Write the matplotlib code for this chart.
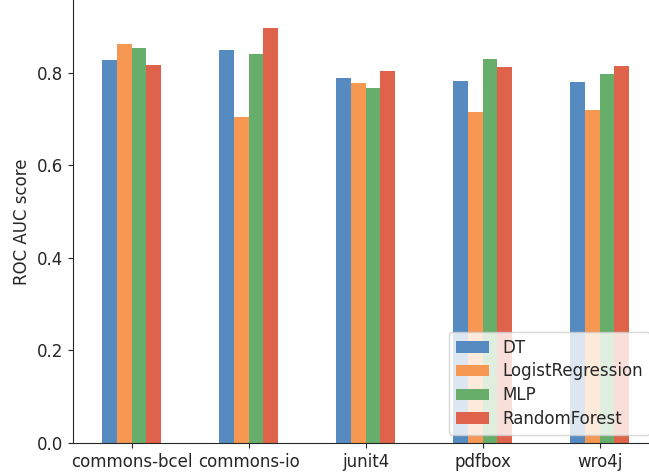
import matplotlib.pyplot as plt
import numpy as np
import seaborn as sns

sns.set_style("ticks")

projects = ["commons-bcel", "commons-io", "junit4", "pdfbox", "wro4j"]
models = ["DT", "LogistRegression", "MLP", "RandomForest"]
dt = [0.828, 0.849, 0.789, 0.782, 0.780]
logreg = [0.862, 0.704, 0.778, 0.716, 0.720]
mlp = [0.853, 0.840, 0.767, 0.830, 0.797]
rf = [0.817, 0.897, 0.804, 0.813, 0.815]
colors = ["#568bc2", "#f79852", "#66ae6a", "#de634a"]

scores = [dt, logreg, mlp, rf]

fig = plt.figure(figsize=(6.49, 4.72), dpi=100)
ax = fig.add_axes([0.1125, 0.0614, 0.9014, 0.9386])

x = np.arange(len(projects))
w = 0.125
for i, (name, vals) in enumerate(zip(models, scores)):
    ax.bar(x + (i - 1.5) * w, vals, w, color=colors[i], label=name, linewidth=0)

ax.set_xticks(x)
ax.set_xticklabels(projects, fontsize=12)
ax.tick_params(axis="y", labelsize=12)
ax.set_xlim(-0.5, 4.5)
ax.set_ylim(0, 0.957)
ax.set_ylabel("ROC AUC score", fontsize=12)
sns.despine(ax=ax)
ax.legend(loc="lower right", fontsize=12, labelspacing=0.35)

fig.savefig("out.png", dpi=100)
